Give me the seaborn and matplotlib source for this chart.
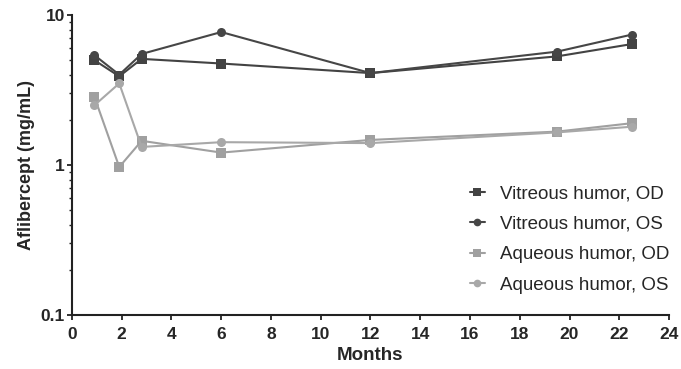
import numpy as np
import pandas as pd
import matplotlib
matplotlib.use("Agg")
import matplotlib.pyplot as plt
import seaborn as sns
from matplotlib.ticker import LogLocator, NullFormatter

months = [0.9, 1.9, 2.8, 6.0, 12.0, 19.5, 22.5]
vitreous_od = [5.0, 3.9, 5.1, 4.75, 4.1, 5.3, 6.4]
vitreous_os = [5.4, 4.0, 5.5, 7.7, 4.1, 5.7, 7.4]
aqueous_od = [2.85, 0.97, 1.45, 1.21, 1.47, 1.67, 1.9]
aqueous_os = [2.5, 3.5, 1.32, 1.42, 1.40, 1.65, 1.8]
series_names = ["Vitreous humor, OD", "Vitreous humor, OS",
                "Aqueous humor, OD", "Aqueous humor, OS"]
x_ticks = list(range(0, 25, 2))
y_ticks = [0.1, 1, 10]
y_tick_labels = ["0.1", "1", "10"]

sns.set_theme(style="ticks")
plt.rcParams["font.family"] = ["Liberation Sans", "DejaVu Sans"]

rows = []
for name, vals in zip(series_names, [vitreous_od, vitreous_os, aqueous_od, aqueous_os]):
    for m, v in zip(months, vals):
        rows.append({"Months": m, "value": v, "series": name})
df = pd.DataFrame(rows)

palette = {"Vitreous humor, OD": "#434343", "Vitreous humor, OS": "#464646",
           "Aqueous humor, OD": "#a0a0a0", "Aqueous humor, OS": "#a8a8a8"}
markers = {"Vitreous humor, OD": "s", "Vitreous humor, OS": "o",
           "Aqueous humor, OD": "s", "Aqueous humor, OS": "o"}

fig = plt.figure(figsize=(6.81, 3.69), dpi=100)
ax = fig.add_axes([0.1057, 0.1463, 0.8767, 0.813])
sns.lineplot(data=df, x="Months", y="value", hue="series", style="series",
             hue_order=series_names, style_order=series_names,
             palette=palette, markers=markers, dashes=False,
             markersize=6.5, markeredgewidth=0, linewidth=1.5, ax=ax)

ax.set_yscale("log")
ax.set_ylim(0.1, 10)
ax.set_xlim(0, 24)
ax.set_xticks(x_ticks)
ax.set_xticklabels([str(t) for t in x_ticks], fontweight="bold", fontsize=12.5)
ax.set_yticks(y_ticks)
ax.set_yticklabels(y_tick_labels, fontweight="bold", fontsize=12.5)
ax.yaxis.set_minor_locator(LogLocator(base=10, subs=np.arange(2, 10)))
ax.yaxis.set_minor_formatter(NullFormatter())
ax.tick_params(axis="both", which="major", length=3.5, width=1.3, color="#222222")
ax.tick_params(axis="x", which="major", pad=5)
ax.tick_params(axis="y", which="major", pad=1.5)
ax.tick_params(axis="y", which="minor", length=2.2, width=1.0, color="#222222")
ax.set_xlabel("Months", fontweight="bold", fontsize=13.5, labelpad=4)
ax.set_ylabel("Aflibercept (mg/mL)", fontweight="bold", fontsize=13, labelpad=4)
for s in ["left", "bottom"]:
    ax.spines[s].set_linewidth(1.5)
    ax.spines[s].set_color("#222222")
sns.despine(ax=ax)

leg = ax.legend(loc="lower right", bbox_to_anchor=(1.013, 0.045), frameon=False,
                fontsize=13.5, handlelength=0.8, labelspacing=0.72,
                handletextpad=0.8, borderaxespad=0.0, markerscale=0.85)

fig.savefig("out.png", dpi=100)
